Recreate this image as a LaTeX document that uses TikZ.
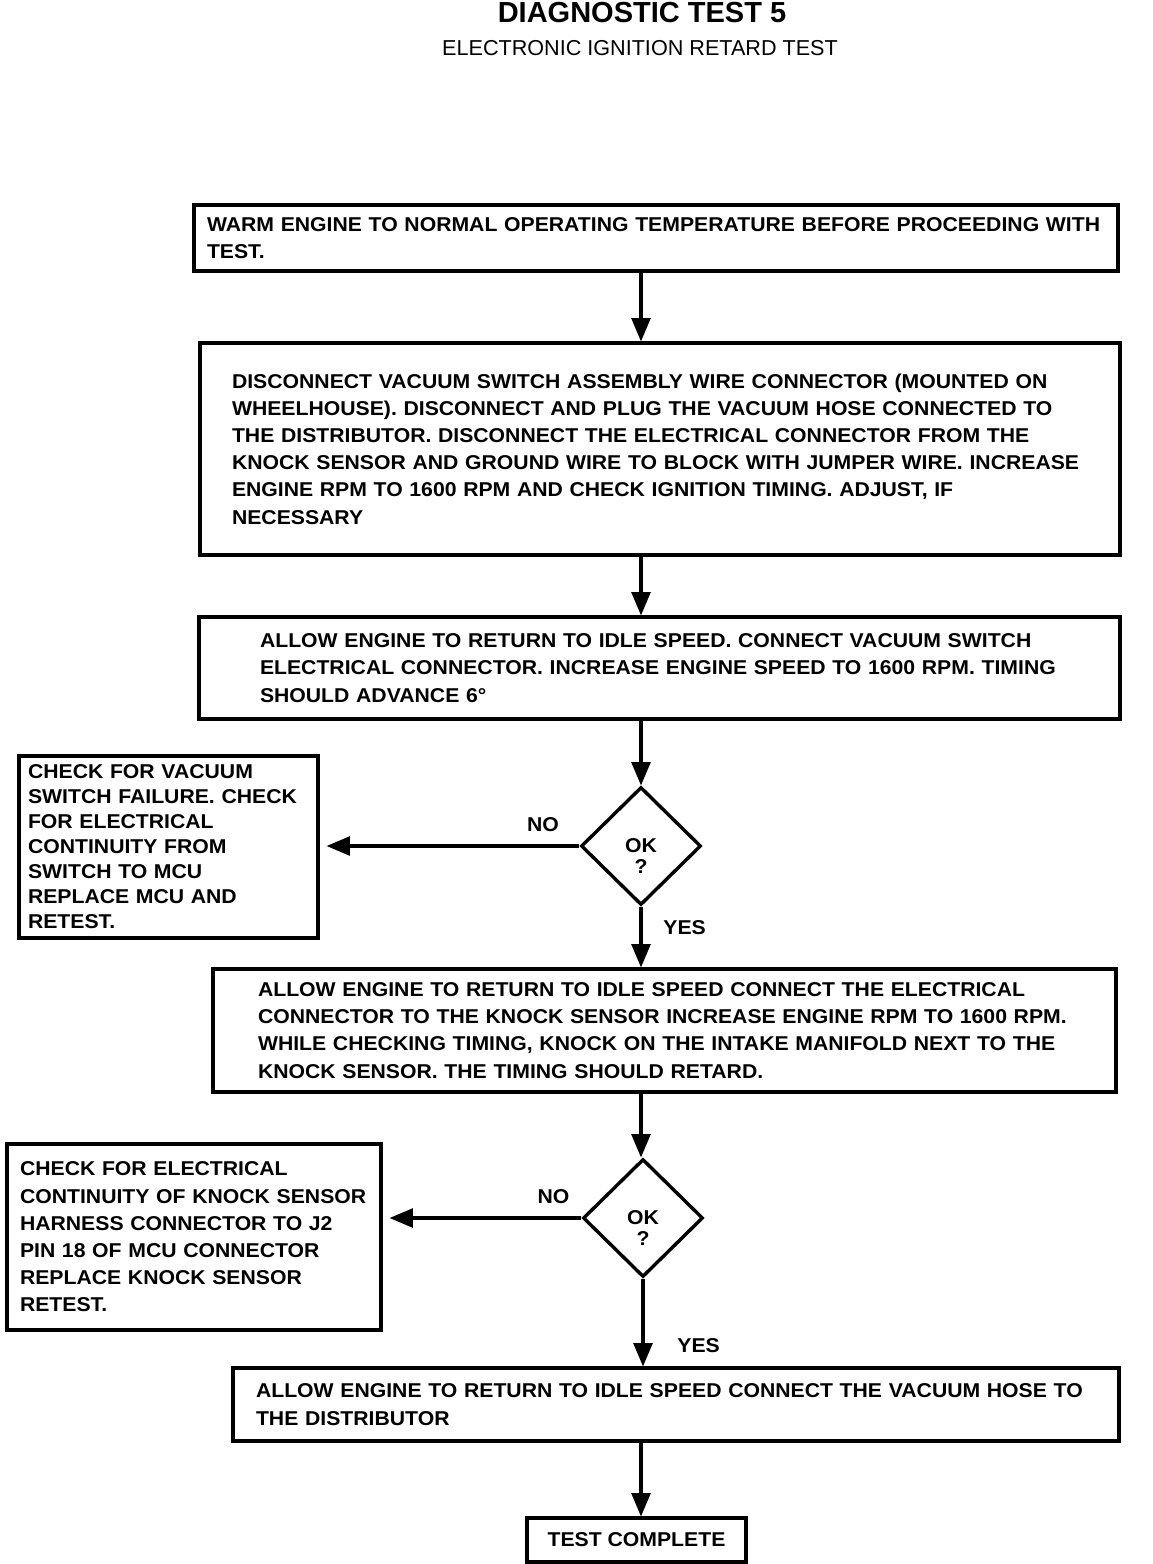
\documentclass[tikz,border=0pt]{standalone}
\usepackage{fontspec}
\setmainfont{Liberation Sans}
\newfontfamily\chartfont{Liberation Sans}[FakeStretch=1.06]
\usetikzlibrary{arrows,shapes.geometric}
\tikzstyle{stepbox}=[draw,line width=1.7pt,inner ysep=0pt,align=left,font=\chartfont\bfseries\fontsize{10}{13.6}\selectfont]
\tikzstyle{decision}=[draw,diamond,line width=1.7pt,minimum width=60pt,minimum height=59pt,inner sep=0pt,align=center,font=\chartfont\bfseries\fontsize{10}{10.5}\selectfont]
\tikzstyle{edge}=[draw,line width=1.7pt,->,>=triangle 45]
\tikzstyle{answer}=[font=\chartfont\bfseries\fontsize{10}{12}\selectfont]

\begin{document}
\begin{tikzpicture}[x=0.5pt,y=-0.5pt]
	\useasboundingbox (0,0) rectangle (1152,1564);

	% Heading
	\node[font=\bfseries\fontsize{14.5}{16}\selectfont] (title) at (642,13) {DIAGNOSTIC TEST 5};
	\node[font=\fontsize{10.8}{12}\selectfont] (subtitle) at (640,48) {ELECTRONIC IGNITION RETARD TEST};

	% First we draw the steps down the middle
	\node[stepbox,text width=449pt,inner xsep=6.5pt,minimum height=33pt] (B1) at (656,238)
		{WARM ENGINE TO NORMAL OPERATING TEMPERATURE BEFORE PROCEEDING WITH\\TEST.};
	\node[stepbox,text width=428pt,inner xsep=16pt,minimum height=106pt] (B2) at (660,449)
		{DISCONNECT VACUUM SWITCH ASSEMBLY WIRE CONNECTOR (MOUNTED ON\\
		WHEELHOUSE). DISCONNECT AND PLUG THE VACUUM HOSE CONNECTED TO\\
		THE DISTRIBUTOR. DISCONNECT THE ELECTRICAL CONNECTOR FROM THE\\
		KNOCK SENSOR AND GROUND WIRE TO BLOCK WITH JUMPER WIRE. INCREASE\\
		ENGINE RPM TO 1600 RPM AND CHECK IGNITION TIMING. ADJUST, IF\\
		NECESSARY};
	\node[stepbox,text width=399.5pt,inner xsep=30.5pt,minimum height=51pt] (B3) at (659.5,668)
		{ALLOW ENGINE TO RETURN TO IDLE SPEED. CONNECT VACUUM SWITCH\\
		ELECTRICAL CONNECTOR. INCREASE ENGINE SPEED TO 1600 RPM. TIMING\\
		SHOULD ADVANCE 6°};
	\node[decision] (d1) at (641,846) {\rule{0pt}{17pt}OK\\?};
	\node[stepbox,text width=406.5pt,inner xsep=22.5pt,minimum height=61.5pt] (B4) at (664.5,1030.5)
		{ALLOW ENGINE TO RETURN TO IDLE SPEED CONNECT THE ELECTRICAL\\
		CONNECTOR TO THE KNOCK SENSOR INCREASE ENGINE RPM TO 1600 RPM.\\
		WHILE CHECKING TIMING, KNOCK ON THE INTAKE MANIFOLD NEXT TO THE\\
		KNOCK SENSOR. THE TIMING SHOULD RETARD.};
	\node[decision] (d2) at (643,1218) {\rule{0pt}{17pt}OK\\?};
	\node[stepbox,text width=420pt,inner xsep=11.5pt,minimum height=36.5pt] (B5) at (676,1404.5)
		{ALLOW ENGINE TO RETURN TO IDLE SPEED CONNECT THE VACUUM HOSE TO\\
		THE DISTRIBUTOR};
	\node[stepbox,align=center,inner xsep=0pt,minimum width=109.5pt,minimum height=22pt] (done) at (636.5,1540)
		{TEST COMPLETE};

	% Boxes for the NO branches
	\node[stepbox,text width=140.5pt,inner xsep=4.5pt,minimum height=91pt,font=\chartfont\bfseries\fontsize{10}{12.5}\selectfont] (N1) at (168.5,847)
		{CHECK FOR VACUUM\\SWITCH FAILURE. CHECK\\FOR ELECTRICAL\\CONTINUITY FROM\\
		SWITCH TO MCU\\REPLACE MCU AND\\RETEST.};
	\node[stepbox,text width=174pt,inner xsep=6.5pt,minimum height=93pt] (N2) at (194,1237)
		{CHECK FOR ELECTRICAL\\CONTINUITY OF KNOCK SENSOR\\HARNESS CONNECTOR TO J2\\
		PIN 18 OF MCU CONNECTOR\\REPLACE KNOCK SENSOR\\RETEST.};

	% Connect the steps
	\foreach \source/\dest in {B1/B2, B2/B3, B3/d1, B4/d2, B5/done}
		\path[edge] (\source.south -| d1) -- (\dest.north -| d1);

	\foreach \source/\dest/\where/\gap in {d1/B4/0.34/7pt, d2/B5/0.76/13pt}
		\path[edge] (\source.south) -- node[answer, right=\gap, pos=\where] {YES} (\dest.north -| \source);

	\foreach \source/\dest in {d1/N1, d2/N2}
		\path[edge, shorten >=3.5pt] (\source.west) -- node[answer, above=3pt, pos=0.14] {NO} (\dest.east |- \source);

\end{tikzpicture}
\end{document}
